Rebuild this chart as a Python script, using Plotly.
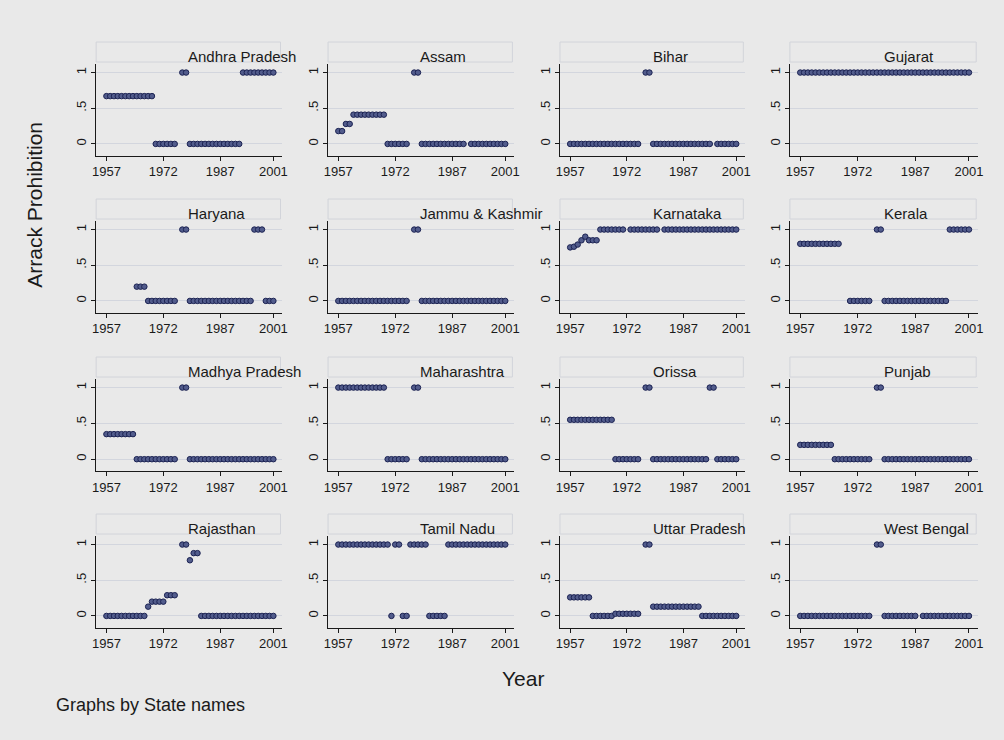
import plotly.graph_objects as go

# ---------------------------------------------------------------- data
YEARS = list(range(1957, 2002))
N = None

STATES = [
    "Andhra Pradesh", "Assam", "Bihar", "Gujarat",
    "Haryana", "Jammu & Kashmir", "Karnataka", "Kerala",
    "Madhya Pradesh", "Maharashtra", "Orissa", "Punjab",
    "Rajasthan", "Tamil Nadu", "Uttar Pradesh", "West Bengal",
]

# one value per year, 1957 ... 2001 (None = no observation)
andhra_pradesh = [.67, .67, .67, .67, .67, .67, .67, .67, .67, .67, .67, .67, .67, 0, 0,
                  0, 0, 0, 0, N, 1, 1, 0, 0, 0, 0, 0, 0, 0, 0,
                  0, 0, 0, 0, 0, 0, 1, 1, 1, 1, 1, 1, 1, 1, 1]
assam = [.18, .18, .28, .28, .41, .41, .41, .41, .41, .41, .41, .41, .41, 0, 0,
         0, 0, 0, 0, N, 1, 1, 0, 0, 0, 0, 0, 0, 0, 0,
         0, 0, 0, 0, N, 0, 0, 0, 0, 0, 0, 0, 0, 0, 0]
bihar = [0, 0, 0, 0, 0, 0, 0, 0, 0, 0, 0, 0, 0, 0, 0,
         0, 0, 0, 0, N, 1, 1, 0, 0, 0, 0, 0, 0, 0, 0,
         0, 0, 0, 0, 0, 0, 0, 0, N, 0, 0, 0, 0, 0, 0]
gujarat = [1, 1, 1, 1, 1, 1, 1, 1, 1, 1, 1, 1, 1, 1, 1,
           1, 1, 1, 1, 1, 1, 1, 1, 1, 1, 1, 1, 1, 1, 1,
           1, 1, 1, 1, 1, 1, 1, 1, 1, 1, 1, 1, 1, 1, 1]
haryana = [N, N, N, N, N, N, N, N, .2, .2, .2, 0, 0, 0, 0,
           0, 0, 0, 0, N, 1, 1, 0, 0, 0, 0, 0, 0, 0, 0,
           0, 0, 0, 0, 0, 0, 0, 0, 0, 1, 1, 1, 0, 0, 0]
jammu_kashmir = [0, 0, 0, 0, 0, 0, 0, 0, 0, 0, 0, 0, 0, 0, 0,
                 0, 0, 0, 0, N, 1, 1, 0, 0, 0, 0, 0, 0, 0, 0,
                 0, 0, 0, 0, 0, 0, 0, 0, 0, 0, 0, 0, 0, 0, 0]
karnataka = [.75, .76, .79, .85, .9, .85, .85, .85, 1, 1, 1, 1, 1, 1, 1,
             N, 1, 1, 1, 1, 1, 1, 1, 1, N, 1, 1, 1, 1, 1,
             1, 1, 1, 1, 1, 1, 1, 1, 1, 1, 1, 1, 1, 1, 1]
kerala = [.8, .8, .8, .8, .8, .8, .8, .8, .8, .8, .8, N, N, 0, 0,
          0, 0, 0, 0, N, 1, 1, 0, 0, 0, 0, 0, 0, 0, 0,
          0, 0, 0, 0, 0, 0, 0, 0, 0, 1, 1, 1, 1, 1, 1]
madhya_pradesh = [.35, .35, .35, .35, .35, .35, .35, .35, 0, 0, 0, 0, 0, 0, 0,
                  0, 0, 0, 0, N, 1, 1, 0, 0, 0, 0, 0, 0, 0, 0,
                  0, 0, 0, 0, 0, 0, 0, 0, 0, 0, 0, 0, 0, 0, 0]
maharashtra = [1, 1, 1, 1, 1, 1, 1, 1, 1, 1, 1, 1, 1, 0, 0,
               0, 0, 0, 0, N, 1, 1, 0, 0, 0, 0, 0, 0, 0, 0,
               0, 0, 0, 0, 0, 0, 0, 0, 0, 0, 0, 0, 0, 0, 0]
orissa = [.55, .55, .55, .55, .55, .55, .55, .55, .55, .55, .55, .55, 0, 0, 0,
          0, 0, 0, 0, N, 1, 1, 0, 0, 0, 0, 0, 0, 0, 0,
          0, 0, 0, 0, 0, 0, 0, 1, 1, 0, 0, 0, 0, 0, 0]
punjab = [.2, .2, .2, .2, .2, .2, .2, .2, .2, 0, 0, 0, 0, 0, 0,
          0, 0, 0, 0, N, 1, 1, 0, 0, 0, 0, 0, 0, 0, 0,
          0, 0, 0, 0, 0, 0, 0, 0, 0, 0, 0, 0, 0, 0, 0]
rajasthan = [0, 0, 0, 0, 0, 0, 0, 0, 0, 0, 0, .13, .2, .2, .2,
             .2, .29, .29, .29, N, 1, 1, .78, .88, .88, 0, 0, 0, 0, 0,
             0, 0, 0, 0, 0, 0, 0, 0, 0, 0, 0, 0, 0, 0, 0]
tamil_nadu = [1, 1, 1, 1, 1, 1, 1, 1, 1, 1, 1, 1, 1, 1, 0,
              1, 1, 0, 0, 1, 1, 1, 1, 1, 0, 0, 0, 0, 0, 1,
              1, 1, 1, 1, 1, 1, 1, 1, 1, 1, 1, 1, 1, 1, 1]
uttar_pradesh = [.26, .26, .26, .26, .26, .26, 0, 0, 0, 0, 0, 0, .03, .03, .03,
                 .03, .03, .03, .03, N, 1, 1, .13, .13, .13, .13, .13, .13, .13, .13,
                 .13, .13, .13, .13, .13, 0, 0, 0, 0, 0, 0, 0, 0, 0, 0]
west_bengal = [0, 0, 0, 0, 0, 0, 0, 0, 0, 0, 0, 0, 0, 0, 0,
               0, 0, 0, 0, N, 1, 1, 0, 0, 0, 0, 0, 0, 0, 0,
               0, N, 0, 0, 0, 0, 0, 0, 0, 0, 0, 0, 0, 0, 0]

SERIES = [andhra_pradesh, assam, bihar, gujarat,
          haryana, jammu_kashmir, karnataka, kerala,
          madhya_pradesh, maharashtra, orissa, punjab,
          rajasthan, tamil_nadu, uttar_pradesh, west_bengal]

X_TICKS = [1957, 1972, 1987, 2001]
Y_TICKS = [0, 0.5, 1]
Y_TICKTEXT = ["0", ".5", "1"]

# ---------------------------------------------------------------- layout
W, H = 1004, 740
BG = "#E9E9E9"
INK = "#1A1A1A"
FONT = "Liberation Sans Narrow, Arial Narrow, Liberation Sans, Arial, sans-serif"
SANS = "Liberation Sans, Arial, sans-serif"

COLS = [(93, 281), (327, 515), (561, 748), (793, 983)]      # px, left/right
ROWS = [(64, 155.7), (221, 312.7), (379, 471), (536, 627.7)]  # px, top/bottom
TITLE_X = [184, 418, 653, 886]

X_RANGE = [1954.3, 2003.4]
Y_RANGE = [-0.165, 1.12]

fig = go.Figure()
shapes, annotations = [], []

for i, (name, vals) in enumerate(zip(STATES, SERIES)):
    r, c = divmod(i, 4)
    sfx = "" if i == 0 else str(i + 1)
    (x0, x1), (y0, y1) = COLS[c], ROWS[r]

    fig.add_trace(go.Scatter(
        x=YEARS, y=vals, mode="markers", name=name, showlegend=False,
        xaxis="x" + sfx, yaxis="y" + sfx,
        marker=dict(size=5.5, color="#525C8C",
                    line=dict(color="#1B2252", width=1)),
        hoverinfo="x+y",
    ))

    fig.layout["xaxis" + sfx] = dict(
        domain=[x0 / W, x1 / W], anchor="y" + sfx, range=X_RANGE,
        tickmode="array", tickvals=X_TICKS, ticks="outside", ticklen=4,
        tickcolor=INK, showline=True, linecolor=INK, linewidth=1,
        showgrid=False, zeroline=False,
        tickfont=dict(family=FONT, size=13, color=INK),
    )
    fig.layout["yaxis" + sfx] = dict(
        domain=[1 - y1 / H, 1 - y0 / H], anchor="x" + sfx, range=Y_RANGE,
        tickmode="array", tickvals=Y_TICKS, ticktext=Y_TICKTEXT,
        ticks="outside", ticklen=4, tickcolor=INK, tickangle=-90,
        showline=True, linecolor=INK, linewidth=1,
        showgrid=True, gridcolor="#D3D6DE", gridwidth=1, zeroline=False,
        tickfont=dict(family=FONT, size=13, color=INK),
    )

    # subtitle box and state name
    shapes.append(dict(
        type="rect", xref="paper", yref="paper",
        x0=x0 / W, x1=(x1 - 2) / W,
        y0=1 - (y0 - 2) / H, y1=1 - (y0 - 22) / H,
        line=dict(color="#D2D4DA", width=1), fillcolor="rgba(0,0,0,0)",
        layer="below",
    ))
    annotations.append(dict(
        text=name, xref="paper", yref="paper",
        x=TITLE_X[c] / W, y=1 - (y0 - 7.5) / H,
        xanchor="left", yanchor="middle", showarrow=False,
        font=dict(family=FONT, size=15, color=INK),
    ))

annotations += [
    dict(text="Arrack Prohibition", xref="paper", yref="paper",
         x=31 / W, y=1 - 205 / H, textangle=-90, showarrow=False,
         xanchor="center", yanchor="middle",
         font=dict(family=SANS, size=21, color=INK)),
    dict(text="Year", xref="paper", yref="paper",
         x=524 / W, y=1 - 678 / H, showarrow=False,
         xanchor="center", yanchor="middle",
         font=dict(family=SANS, size=21, color=INK)),
    dict(text="Graphs by State names", xref="paper", yref="paper",
         x=50 / W, y=1 - 705 / H, showarrow=False,
         xanchor="left", yanchor="middle",
         font=dict(family=SANS, size=18, color=INK)),
]

fig.update_layout(
    width=W, height=H, autosize=False,
    margin=dict(l=0, r=0, t=0, b=0),
    paper_bgcolor=BG, plot_bgcolor=BG,
    shapes=shapes, annotations=annotations,
    showlegend=False,
)

fig.write_html("out.html")
